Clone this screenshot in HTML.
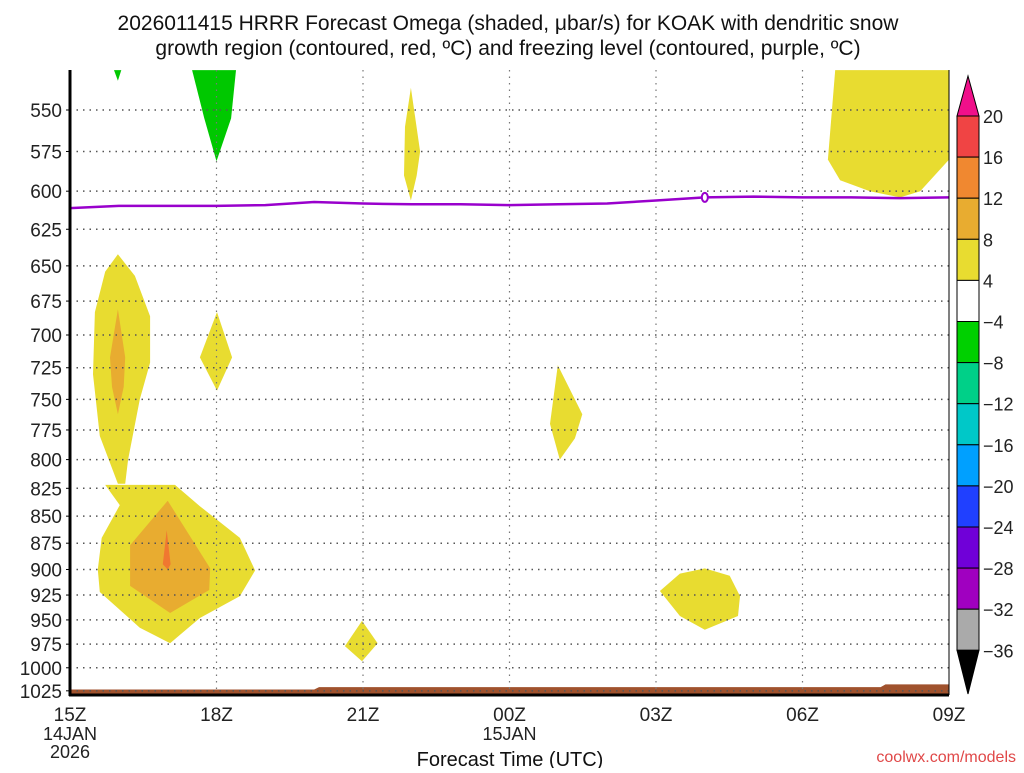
<!DOCTYPE html>
<html><head><meta charset="utf-8"><style>
body{margin:0;background:#fff;width:1024px;height:768px;overflow:hidden}
svg text{font-family:"Liberation Sans",sans-serif}
</style></head><body>
<svg id="c" width="1024" height="768" xmlns="http://www.w3.org/2000/svg">
<text x="508" y="30" font-size="21" text-anchor="middle" fill="#111">2026011415 HRRR Forecast Omega (shaded, μbar/s) for KOAK with dendritic snow</text>
<text x="508" y="55" font-size="21" text-anchor="middle" fill="#111">growth region (contoured, red, ºC) and freezing level (contoured, purple, ºC)</text>
<g id="shade"></g><g id="grid"></g><g id="axes"></g><g id="cbar"></g>
<text x="510" y="766" font-size="20" text-anchor="middle" fill="#111">Forecast Time (UTC)</text>
<text x="1016" y="762" font-size="16" text-anchor="end" fill="#e04848">coolwx.com/models</text>
</svg>
<script>
const pLevels=[550,575,600,625,650,675,700,725,750,775,800,825,850,875,900,925,950,975,1000,1025];
const xTickHours=[0,3,6,9,12,15,18];
const xTickLabels=["15Z","18Z","21Z","00Z","03Z","06Z","09Z"];
const freezeHours=[0,1,2,3,4,5,6,7,8,9,10,11,12,13,14,15,16,17,18];
const freezeP=[611,609.5,609.5,609.5,609,607,608,608.5,608.5,609,608.5,608,606,604,603.5,604,604,604.5,604];
const surfHours=[0,5,5.1,16.6,16.7,18];
const surfP=[1023.5,1023.5,1021,1021,1018,1018];
const cbLevels=["20","16","12","8","4","−4","−8","−12","−16","−20","−24","−28","−32","−36"];
const cbColors=["#f04444","#f08830","#e8ac30","#e8dc30","#ffffff","#00d000","#00d088","#00c8c8","#00a0ff","#2040ff","#7000d8","#a000c0","#aaaaaa"];
// blobs: [color, hours[], pressures[]]
const blobColors=["#00c800","#00c800","#e8dc30","#e8dc30","#e8dc30","#e8ac30","#e8dc30","#e8dc30","#e8dc30","#e8ac30","#f07830","#e8dc30","#e8dc30"];
const blobHours=[
[0.9,1.05,0.98],
[2.5,3.4,3.3,3.0,2.75],
[6.98,7.17,7.1,6.98,6.84,6.86],
[15.67,15.52,15.77,16.38,17.0,17.41,18,18,15.67],
[0.98,1.33,1.64,1.64,1.43,1.19,1.13,0.98,0.61,0.47,0.51,0.72],
[0.98,1.13,1.1,0.98,0.86,0.82],
[3.01,3.32,3.01,2.66],
[9.99,10.49,10.34,10.03,9.83],
[0.72,2.15,2.66,3.48,3.79,3.48,2.66,2.05,1.43,0.61,0.57,0.65,1.02],
[2.0,2.87,2.85,2.05,1.23,1.23],
[1.98,2.06,2.0,1.9],
[5.63,5.98,6.30,5.98],
[12.08,12.49,13.0,13.51,13.72,13.68,13.0,12.49]];
const blobP=[
[527,527,533],
[527,527,555,581,555],
[537,575,590,606,590,560],
[527,580,593,600,604,600,580,527,527],
[642,657,686,721,750,800,821,821,780,730,683,654],
[681,717,740,762,740,717],
[683,717,743,717],
[723,762,782,800,770],
[822,822,841,870,901,926,948,974,958,922,900,870,840],
[836,899,920,943,916,877],
[863,895,900,895],
[977,951,974,993],
[921,904,899,906,926,946,960,946]];
const X0=70,X1=949,Y0=70,Y1=695;
const xh=h=>X0+(X1-X0)*h/18;
const yp=p=>110+933*(Math.log(p)-Math.log(550));
const NS="http://www.w3.org/2000/svg";
function mk(t,a,parent){const e=document.createElementNS(NS,t);for(const k in a)e.setAttribute(k,a[k]);parent.appendChild(e);return e;}
const shade=document.getElementById('shade'),grid=document.getElementById('grid'),axes=document.getElementById('axes'),cbar=document.getElementById('cbar');
mk('clipPath',{id:'pc'},shade).appendChild(Object.assign(document.createElementNS(NS,'rect'),{})).setAttribute('x',X0);
const cr=shade.querySelector('clipPath rect');cr.setAttribute('y',Y0);cr.setAttribute('width',X1-X0);cr.setAttribute('height',Y1-Y0);
const sg=mk('g',{'clip-path':'url(#pc)'},shade);
blobHours.forEach((hs,i)=>{
  const pts=hs.map((h,j)=>xh(h).toFixed(1)+','+yp(blobP[i][j]).toFixed(1)).join(' ');
  const e=mk('polygon',{points:pts,fill:blobColors[i]},sg);
  
  
});
let sp=surfHours.map((h,j)=>xh(h)+','+yp(surfP[j])).join(' ')+' '+X1+','+Y1+' '+X0+','+Y1;
const ground=mk('polygon',{points:sp,fill:'#a0522d'},sg);


pLevels.forEach(p=>{
  const y=yp(p);
  const g=mk('line',{x1:X0,x2:X1,y1:y,y2:y,stroke:'#555','stroke-width':1.5,'stroke-dasharray':'1.5,5'},grid);
  
  
  mk('line',{x1:X0-4,x2:X0,y1:y,y2:y,stroke:'#000'},axes);
  const t=mk('text',{x:X0-8,y:y+7,'font-size':19,'text-anchor':'end',fill:'#222'},axes);
  t.textContent=p;
  
  
});
xTickHours.forEach((h,i)=>{
  const x=xh(h);
  if(i>0&&i<6){const g=mk('line',{x1:x,x2:x,y1:Y0,y2:Y1,stroke:'#777','stroke-width':1.2,'stroke-dasharray':'1.5,5'},grid);
  
  }
  const t=mk('text',{x:x,y:721,'font-size':19,'text-anchor':'middle',fill:'#222'},axes);
  t.textContent=xTickLabels[i];
  
  
});
[["14JAN",xh(0),740],["2026",xh(0),758],["15JAN",xh(9),740]].forEach(a=>{
  const t=mk('text',{x:a[1],y:a[2],'font-size':18,'text-anchor':'middle',fill:'#222'},axes);
  t.textContent=a[0];
  
  
});
const fl=mk('polyline',{points:freezeHours.map((h,j)=>xh(h)+','+yp(freezeP[j])).join(' '),fill:'none',stroke:'#9900cc','stroke-width':2.5},axes);


const fz=mk('ellipse',{cx:xh(13),cy:yp(604),rx:3,ry:4.5,fill:'#fff',stroke:'#9900cc','stroke-width':2},axes);


mk('line',{x1:X0,x2:X0,y1:Y0,y2:Y1+1,stroke:'#000','stroke-width':3},axes);
mk('line',{x1:X0-1,x2:X1,y1:Y1,y2:Y1,stroke:'#000','stroke-width':3},axes);
mk('line',{x1:X1,x2:X1,y1:Y0,y2:Y1,stroke:'#000','stroke-width':1},axes);
// colorbar
const cx0=957,cx1=979,cTop=116,step=41.1;
const tri1=mk('polygon',{points:`${cx0},${cTop} ${cx1},${cTop} ${(cx0+cx1)/2},76`,fill:'#f0108a',stroke:'#000'},cbar);


cbColors.forEach((c,i)=>{
  const r=mk('rect',{x:cx0,y:cTop+i*step,width:cx1-cx0,height:step,fill:c,stroke:'#000'},cbar);
  
  
});
const yb=cTop+13*step;
const tri2=mk('polygon',{points:`${cx0},${yb} ${cx1},${yb} ${(cx0+cx1)/2},694`,fill:'#000',stroke:'#000'},cbar);


cbLevels.forEach((l,i)=>{
  const t=mk('text',{x:983,y:cTop+i*step+7,'font-size':18,fill:'#222'},cbar);
  t.textContent=l;
  
  
});
</script>
</body></html>
